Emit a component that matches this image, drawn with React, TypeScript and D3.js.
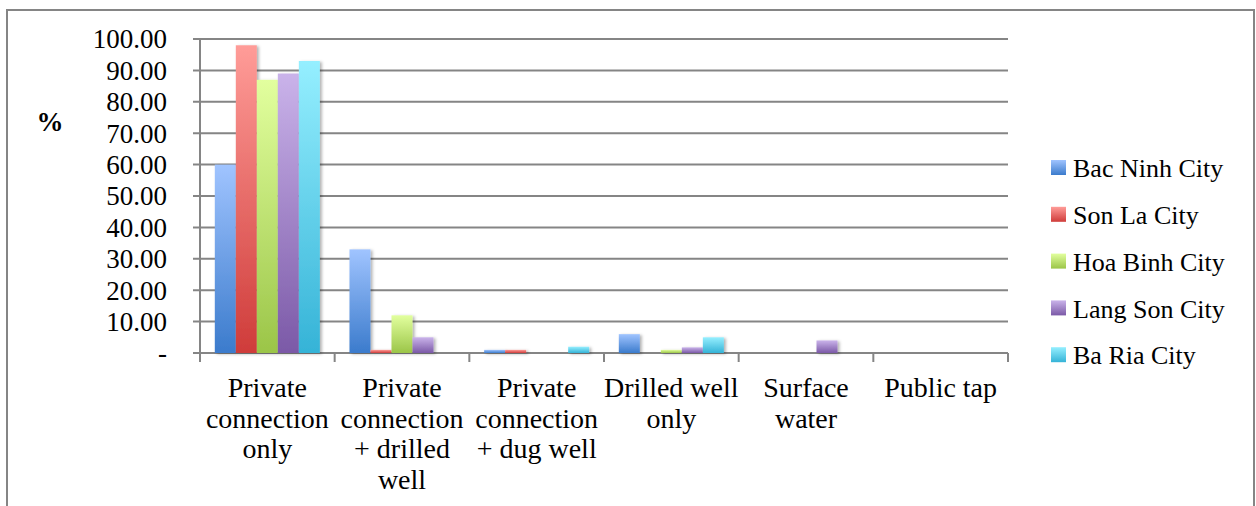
import { useMemo } from "react";
import * as d3 from "d3";

// ── Data ──────────────────────────────────────────────────────────────────────
const categories: string[][] = [
  ["Private", "connection", "only"],
  ["Private", "connection", "+ drilled", "well"],
  ["Private", "connection", "+ dug well"],
  ["Drilled well", "only"],
  ["Surface", "water"],
  ["Public tap"],
];

const seriesNames = ["Bac Ninh City", "Son La City", "Hoa Binh City", "Lang Son City", "Ba Ria City"];

const bacNinh = [60, 33, 1, 6, 0, 0];
const sonLa = [98, 1, 1, 0, 0, 0];
const hoaBinh = [87, 12, 0, 1, 0, 0];
const langSon = [89, 5, 0, 1.8, 4, 0];
const baRia = [93, 0, 2, 5, 0, 0];

const seriesValues = [bacNinh, sonLa, hoaBinh, langSon, baRia];

const yTicks = [0, 10, 20, 30, 40, 50, 60, 70, 80, 90, 100];

// gradient stops: top (light) -> bottom (dark)
const seriesColors: [string, string][] = [
  ["#a0c4ff", "#3b7bcc"],
  ["#ff9c98", "#cf3c3a"],
  ["#e2ff9e", "#9bc548"],
  ["#cab3ea", "#7b59a7"],
  ["#95efff", "#35b3d7"],
];

const FONT = "'Liberation Serif', 'Times New Roman', serif";
const GRID = "#858585";

export default function App() {
  const width = 1256;
  const height = 506;
  const left = 200;
  const right = 1008;
  const top = 39;
  const bottom = 353;

  const x = useMemo(
    () => d3.scaleBand<number>().domain(d3.range(categories.length)).range([left, right]).padding(0),
    []
  );
  const y = useMemo(() => d3.scaleLinear().domain([0, 100]).range([bottom, top]), []);
  const step = x.bandwidth();
  const gap = step * 0.22;
  const inner = d3
    .scaleBand<number>()
    .domain(d3.range(seriesNames.length))
    .range([gap / 2, step - gap / 2])
    .padding(0);

  return (
    <svg
      width={width}
      height={height}
      style={{ position: "absolute", left: 0, top: 0, background: "#fff" }}
      fontFamily={FONT}
    >
      <defs>
        {seriesColors.map(([c1, c2], i) => (
          <linearGradient key={i} id={`grad-${i}`} x1="0" y1="0" x2="0" y2="1">
            <stop offset="0%" stopColor={c1} />
            <stop offset="100%" stopColor={c2} />
          </linearGradient>
        ))}
        <filter id="shadow" x="-20%" y="-5%" width="150%" height="115%">
          <feDropShadow dx="2" dy="1" stdDeviation="1.5" floodColor="#000" floodOpacity="0.3" />
        </filter>
      </defs>

      {/* outer frame */}
      <rect x={7} y={10} width={1247} height={520} fill="none" stroke={GRID} strokeWidth={2} />

      {/* gridlines */}
      {yTicks.map((t) => (
        <line
          key={`g${t}`}
          x1={left - 7}
          x2={right}
          y1={y(t)}
          y2={y(t)}
          stroke={GRID}
          strokeWidth={2}
        />
      ))}

      {/* y axis */}
      <line x1={left} x2={left} y1={top} y2={bottom + 9} stroke={GRID} strokeWidth={2} />
      {yTicks.map((t) => (
        <text
          key={`yl${t}`}
          x={167}
          y={y(t)}
          dy="0.35em"
          textAnchor="end"
          fontSize={27}
          fill="#000"
        >
          {t === 0 ? "-" : t.toFixed(2)}
        </text>
      ))}
      <text x={50} y={131} textAnchor="middle" fontSize={27} fontWeight="bold" fill="#000">
        %
      </text>

      {/* x axis tick marks */}
      {d3.range(categories.length + 1).map((i) => {
        const xx = left + i * step;
        return <line key={`xt${i}`} x1={xx} x2={xx} y1={bottom} y2={bottom + 9} stroke={GRID} strokeWidth={2} />;
      })}

      {/* bars */}
      {seriesValues.map((vals, s) => (
        <g key={`s${s}`} filter="url(#shadow)">
          {vals.map((v, c) =>
            v > 0 ? (
              <rect
                key={c}
                x={(x(c) as number) + (inner(s) as number)}
                y={y(v)}
                width={inner.bandwidth()}
                height={bottom - y(v)}
                fill={`url(#grad-${s})`}
              />
            ) : null
          )}
        </g>
      ))}

      {/* x labels */}
      {categories.map((lines, c) => (
        <text key={`xl${c}`} textAnchor="middle" fontSize={28} fill="#000">
          {lines.map((ln, k) => (
            <tspan key={k} x={(x(c) as number) + step / 2} y={397 + k * 30.5}>
              {ln}
            </tspan>
          ))}
        </text>
      ))}

      {/* legend */}
      {seriesNames.map((name, s) => {
        const cy = 168 + s * 46.8;
        return (
          <g key={`lg${s}`}>
            <rect x={1051} y={cy - 8} width={15} height={15} fill={`url(#grad-${s})`} />
            <text x={1073} y={cy} dy="0.35em" fontSize={26} fill="#000">
              {name}
            </text>
          </g>
        );
      })}
    </svg>
  );
}
